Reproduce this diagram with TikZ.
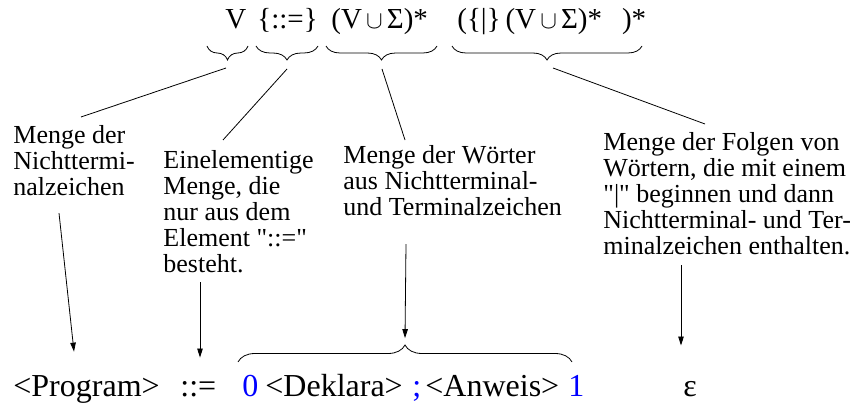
\documentclass[tikz,border=0pt]{standalone}
\usepackage{fontspec}
\setmainfont{Liberation Serif}
\newfontfamily\plainserif{Liberation Serif}
\usepackage{tikz}
\usetikzlibrary{arrows.meta,positioning,calc,decorations.pathreplacing}
\definecolor{termblue}{RGB}{0, 0, 255}
\newcommand{\dq}{{\plainserif\symbol{34}}}

\begin{document}
\begin{tikzpicture}[x=1pt, y=1pt, >={Triangle[length=9pt,width=5.5pt]}, line width=0.8pt,
    toptext/.style={anchor=base west, inner sep=0pt, font=\fontsize{29}{29}\selectfont},
    note/.style={anchor=north west, inner sep=0pt, align=left, font=\fontsize{26}{26}\selectfont},
    prod/.style={anchor=base west, inner sep=0pt, font=\fontsize{32}{32}\selectfont},
    grp/.style={decorate, decoration={brace, mirror, amplitude=14pt}}]
    \useasboundingbox (0,0) rectangle (856,-403);

    % General form of a rule
    \node[toptext] (tV)   at (225,-29) {V};
    \node[toptext] (tAss) at (257,-29) {\{::=\}};
    \node[toptext] (tSeq) at (331,-29) {(V$\,\cup\,$Σ)*};
    \node[toptext] (tRep) at (457,-29) {(\{|\}\,(V$\,\cup\,$Σ)*\hspace{20pt})*};

    % Braces under the parts
    \draw[grp] (207,-46) -- (248,-46);
    \draw[grp] (256,-46) -- (318,-46);
    \draw[grp] (326,-46) -- (437,-46);
    \draw[grp] (452,-46) -- (642,-46);
    \coordinate (g1) at (226,-68);
    \coordinate (g2) at (287,-69);
    \coordinate (g3) at (382,-69);
    \coordinate (g4) at (553,-68);

    % Explanations
    \node[note] (d1) at (13,-125) {Menge der\\Nichttermi-\\nalzeichen};
    \node[note] (d2) at (163,-150) {Einelementige\\Menge, die\\nur aus dem\\Element \dq::=\dq\\besteht.};
    \node[note] (d3) at (343,-145) {Menge der Wörter\\aus Nichtterminal-\\und Terminalzeichen};
    \node[note] (d4) at (603,-132) {Menge der Folgen von\\Wörtern, die mit einem\\\dq|\dq{} beginnen und dann\\Nichtterminal- und Ter-\\minalzeichen enthalten.};

    \draw (g1) -- ($(d1.north west)+(68,8)$);
    \draw (g2) -- ($(d2.north west)+(60,10)$);
    \draw (g3) -- ($(d3.north west)+(62,5)$);
    \draw (g4) -- ($(d4.north west)+(102,8)$);

    % The example rule
    \node[prod] (bProg) at (13,-396) {<Program>};
    \node[prod] (bAss)  at (180,-396) {::=};
    \node[prod, termblue] (b0) at (242,-396) {0};
    \node[prod] (bDekl) at (265,-396) {<Deklara>};
    \node[prod, termblue] (bSemi) at (412,-396) {;};
    \node[prod] (bAnw)  at (425,-396) {<Anweis>};
    \node[prod, termblue] (b1) at (568,-396) {1};
    \node[prod] (bEps)  at (683,-396) {ε};

    \draw[decorate, decoration={brace, amplitude=17pt}] (238,-362) -- (572,-362);

    \draw[->] ($(d1.south west)+(46,-17)$) -- ($(bProg.north west)+(61,23)$);
    \draw[->] ($(d2.south west)+(37,-9)$) -- ($(bAss.north west)+(20,23)$);
    \draw[->] ($(d3.south west)+(63,-28)$) -- ($(d3.south west)+(62,-122)$);
    \draw[->] ($(d4.south west)+(78,-10)$) -- ($(bEps.north west)+(-2,35)$);
\end{tikzpicture}
\end{document}
